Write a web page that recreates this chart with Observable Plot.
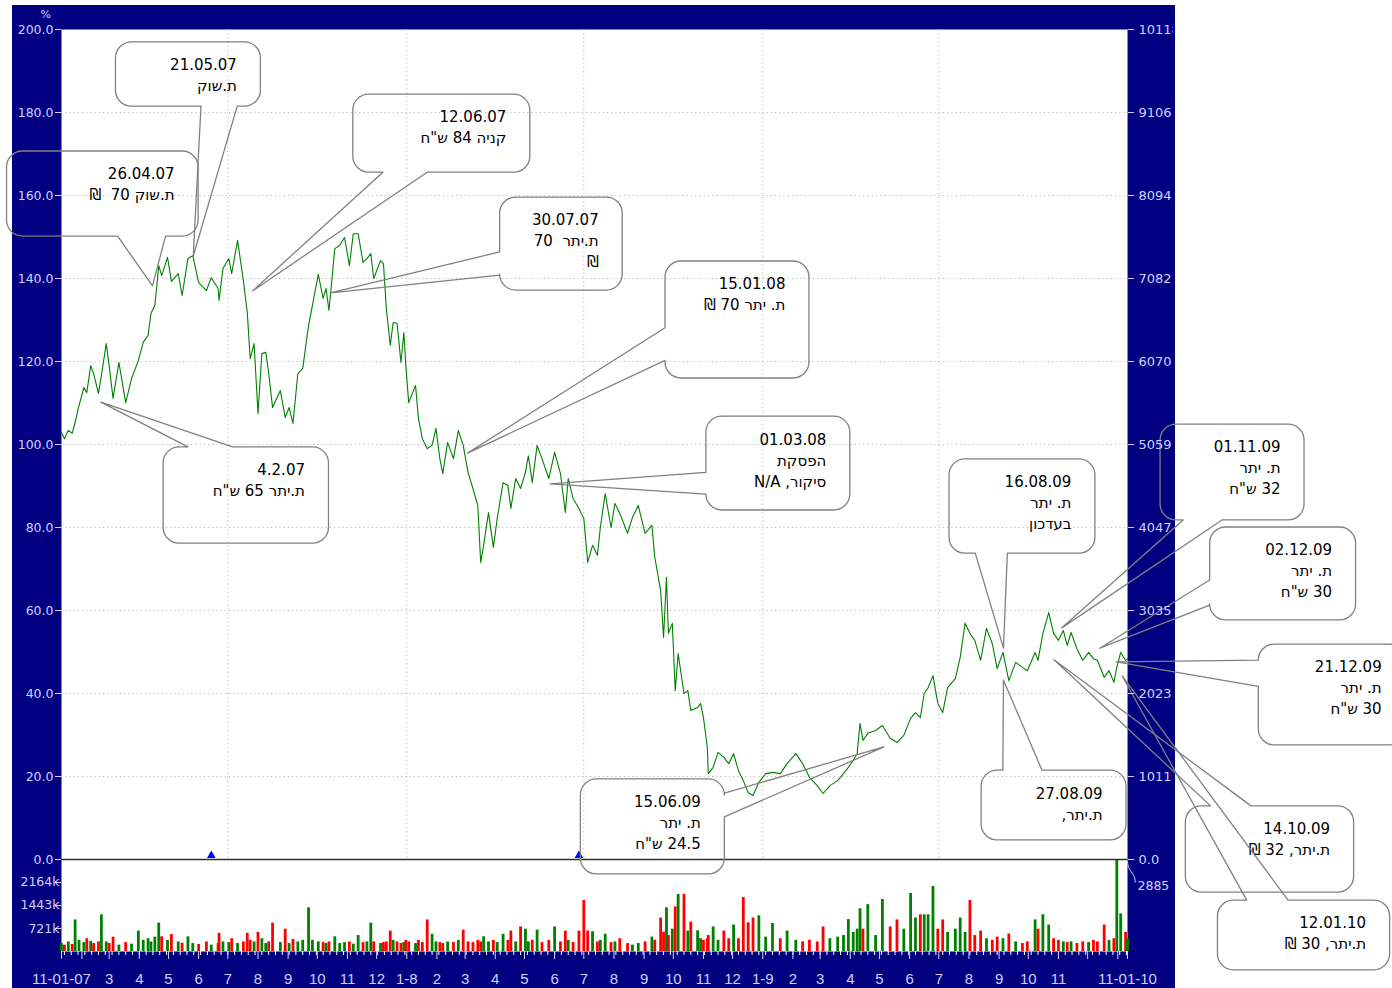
<!DOCTYPE html>
<html><head><meta charset="utf-8">
<script src="https://cdn.jsdelivr.net/npm/d3@7"></script>
<script src="https://cdn.jsdelivr.net/npm/@observablehq/plot@0.6"></script>
<style>
body{margin:0;background:#fff;}
#wrap{position:relative;width:1392px;height:988px;overflow:hidden;background:#fff;}
#navy{position:absolute;left:12px;top:5px;width:1163px;height:983px;background:#000080;}
#wrap svg{position:absolute;left:0;top:0;}
</style></head><body><div id="wrap"><div id="navy"></div></div>
<script>
// ---------- data ----------
const dates = ["2007-01-11","2007-01-14","2007-01-18","2007-01-22","2007-01-25","2007-01-29","2007-02-03","2007-02-06","2007-02-10","2007-02-13","2007-02-18","2007-02-21","2007-02-26","2007-03-01","2007-03-05","2007-03-11","2007-03-18","2007-03-24","2007-03-31","2007-04-05","2007-04-10","2007-04-13","2007-04-17","2007-04-21","2007-04-24","2007-04-30","2007-05-04","2007-05-11","2007-05-15","2007-05-21","2007-05-26","2007-06-01","2007-06-09","2007-06-14","2007-06-21","2007-06-22","2007-06-26","2007-07-02","2007-07-05","2007-07-11","2007-07-17","2007-07-21","2007-07-24","2007-07-28","2007-08-01","2007-08-05","2007-08-09","2007-08-12","2007-08-16","2007-08-24","2007-08-29","2007-09-02","2007-09-06","2007-09-11","2007-09-16","2007-09-22","2007-09-26","2007-10-02","2007-10-07","2007-10-10","2007-10-13","2007-10-19","2007-10-24","2007-10-29","2007-11-03","2007-11-07","2007-11-12","2007-11-17","2007-11-21","2007-11-25","2007-11-28","2007-12-05","2007-12-08","2007-12-11","2007-12-15","2007-12-18","2007-12-22","2007-12-26","2007-12-29","2007-12-31","2008-01-03","2008-01-10","2008-01-13","2008-01-17","2008-01-22","2008-01-27","2008-01-31","2008-02-04","2008-02-07","2008-02-12","2008-02-18","2008-02-23","2008-02-28","2008-03-04","2008-03-09","2008-03-14","2008-03-17","2008-03-20","2008-03-25","2008-03-30","2008-04-03","2008-04-09","2008-04-14","2008-04-17","2008-04-22","2008-04-27","2008-05-02","2008-05-05","2008-05-09","2008-05-14","2008-05-19","2008-05-26","2008-06-01","2008-06-07","2008-06-12","2008-06-15","2008-06-20","2008-06-26","2008-07-01","2008-07-05","2008-07-10","2008-07-15","2008-07-18","2008-07-23","2008-07-29","2008-08-02","2008-08-07","2008-08-15","2008-08-20","2008-08-26","2008-09-02","2008-09-09","2008-09-12","2008-09-18","2008-09-21","2008-09-24","2008-09-26","2008-09-30","2008-10-03","2008-10-06","2008-10-12","2008-10-16","2008-10-19","2008-10-26","2008-10-29","2008-11-01","2008-11-05","2008-11-06","2008-11-11","2008-11-16","2008-11-22","2008-11-27","2008-12-02","2008-12-07","2008-12-12","2008-12-17","2008-12-22","2008-12-28","2009-01-04","2009-01-11","2009-01-19","2009-01-26","2009-02-04","2009-02-11","2009-02-18","2009-02-26","2009-03-04","2009-03-11","2009-03-19","2009-03-25","2009-03-30","2009-04-04","2009-04-08","2009-04-11","2009-04-14","2009-04-19","2009-04-27","2009-05-04","2009-05-12","2009-05-19","2009-05-26","2009-06-02","2009-06-07","2009-06-12","2009-06-16","2009-06-20","2009-06-25","2009-06-30","2009-07-05","2009-07-10","2009-07-18","2009-07-23","2009-07-28","2009-08-02","2009-08-07","2009-08-13","2009-08-19","2009-08-25","2009-08-30","2009-09-05","2009-09-11","2009-09-18","2009-09-25","2009-09-30","2009-10-08","2009-10-11","2009-10-16","2009-10-22","2009-10-27","2009-11-01","2009-11-06","2009-11-10","2009-11-14","2009-11-20","2009-11-26","2009-12-02","2009-12-07","2009-12-11","2009-12-18","2009-12-23","2009-12-28","2009-12-31","2010-01-04","2010-01-09","2010-01-11"];
const pct = [102.9,101.4,103.4,102.7,105.3,109.4,113.7,112.5,119.0,117.1,112.3,116.6,124.3,119.0,111.1,119.8,110.1,115.9,120.2,124.6,126.3,131.6,133.5,143.1,140.7,145.1,139.3,141.2,135.9,144.8,145.5,139.0,137.1,140.2,137.6,134.7,142.4,144.8,141.2,149.2,139.5,131.8,120.7,124.3,107.5,121.9,122.2,117.3,108.9,113.0,106.5,108.9,105.1,117.1,118.3,128.7,133.5,141.0,135.2,137.6,132.3,147.2,148.0,149.9,143.1,150.8,150.8,143.9,144.8,146.0,140.0,144.3,143.6,132.8,123.9,129.4,129.2,119.8,127.0,119.0,110.1,114.2,106.3,101.4,99.0,99.8,103.9,96.6,93.0,100.5,96.6,103.4,99.8,93.3,89.4,85.3,71.6,75.7,83.6,75.2,82.2,90.8,90.1,84.6,91.8,89.4,93.3,97.3,90.8,99.8,96.6,91.8,98.1,93.0,83.6,91.8,87.0,84.6,82.2,71.6,75.7,73.3,80.0,88.2,80.0,85.8,83.4,78.6,82.4,85.3,78.6,80.5,72.8,64.8,53.5,68.0,54.5,56.9,40.7,49.6,40.0,40.7,35.9,36.6,37.6,34.2,27.0,20.7,22.2,25.8,24.6,23.1,25.5,21.4,19.0,16.1,15.4,18.6,20.7,21.0,20.7,23.1,25.5,23.1,19.8,17.8,15.9,17.8,19.0,20.7,22.2,23.9,25.5,32.8,28.7,30.4,31.1,32.3,29.2,28.2,29.9,34.0,35.4,34.2,40.0,41.4,44.3,37.6,35.4,41.4,43.6,48.7,56.9,54.5,52.8,48.0,55.7,52.0,46.0,49.9,43.1,47.5,46.3,45.5,49.9,48.0,54.5,59.5,54.5,52.8,55.2,51.6,54.7,50.8,48.0,49.9,48.4,48.0,43.9,45.5,42.7,46.3,49.9,48.0,48.4];
const volK = [250,200,300,220,990,350,280,400,320,250,300,1150,300,250,450,200,280,230,640,350,400,300,450,890,460,350,530,300,260,460,250,220,300,200,250,570,300,280,400,250,300,570,350,300,600,400,250,300,890,280,700,250,380,300,350,1370,350,300,280,250,300,460,250,280,300,230,500,280,300,890,300,250,280,300,640,350,300,250,280,350,300,250,350,280,990,540,300,280,250,300,280,350,670,300,280,350,300,460,300,350,280,540,350,640,300,770,700,300,350,670,280,350,770,300,640,350,280,640,1600,640,620,300,350,540,280,300,400,250,200,250,300,450,350,1050,600,1370,500,700,1400,1790,1790,640,920,650,400,350,400,500,770,350,640,400,830,400,1690,900,1050,1120,450,880,400,640,350,300,350,300,770,400,450,500,1000,600,700,1340,700,1470,500,1630,770,990,700,1820,1050,1150,1150,1150,2040,700,990,600,700,1050,600,1600,500,640,400,350,450,400,550,300,250,300,990,700,1150,830,400,350,300,280,300,250,300,280,350,300,830,350,400,2885,1180,600,400];
const markerDates = ["2007-06-14","2008-06-26"];
const yTicks = [0,20,40,60,80,100,120,140,160,180,200];
const volTicks = [721,1443,2164];
const volMax = 2885;
const basePrice = 5059;
const gridDates = ["2007-07-01","2008-01-01","2008-07-01","2009-01-01","2009-07-01"];
const monthTickDates = ["2007-02-01","2007-03-01","2007-04-01","2007-05-01","2007-06-01","2007-07-01","2007-08-01","2007-09-01","2007-10-01","2007-11-01","2007-12-01","2008-01-01","2008-02-01","2008-03-01","2008-04-01","2008-05-01","2008-06-01","2008-07-01","2008-08-01","2008-09-01","2008-10-01","2008-11-01","2008-12-01","2009-01-01","2009-02-01","2009-03-01","2009-04-01","2009-05-01","2009-06-01","2009-07-01","2009-08-01","2009-09-01","2009-10-01","2009-11-01","2009-12-01","2010-01-01"];
const monthTickLabels = ["","3","4","5","6","7","8","9","10","11","12","1-8","2","3","4","5","6","7","8","9","10","11","12","1-9","2","3","4","5","6","7","8","9","10","11","",""];
const edgeDates = ["2007-01-11","2010-01-11"];
const edgeLabels = ["11-01-07","11-01-10"];

// annotations: text lines, tip (date, %), box (date from, date to, % top, % bottom), pointer side + fractions
const calloutTexts = [
  ["21.05.07","ת.שוק"],
  ["26.04.07","ת.שוק 70  ₪"],
  ["12.06.07","קניה 84 ש\"ח"],
  ["30.07.07","ת.יתר  70","₪"],
  ["15.01.08","ת. יתר 70 ₪"],
  ["01.03.08","הפסקת","סיקור, N/A"],
  ["4.2.07","ת.יתר 65 ש\"ח"],
  ["15.06.09","ת. יתר","24.5 ש\"ח"],
  ["16.08.09","ת. יתר","בעדכון"],
  ["27.08.09","ת.יתר,"],
  ["01.11.09","ת. יתר","32 ש\"ח"],
  ["02.12.09","ת. יתר","30 ש\"ח"],
  ["21.12.09","ת. יתר","30 ש\"ח"],
  ["14.10.09","ת.יתר, 32 ₪"],
  ["12.01.10","ת.יתר, 30 ₪"]
];
const calloutTips = [
  ["2007-05-27",145.3],["2007-04-15",138.1],["2007-07-27",136.9],["2007-10-15",136.4],
  ["2008-03-04",97.8],["2008-05-28",90.4],["2007-02-21",110.1],["2009-05-06",27.0],
  ["2009-09-06",50.8],["2009-09-06",43.1],["2009-11-05",55.7],["2009-12-14",50.8],
  ["2009-12-31",47.5],["2009-10-28",48.0],["2010-01-06",44.1]
];
const calloutBoxes = [
  ["2007-03-08","2007-08-04",196.9,181.4],["2006-11-16","2007-06-01",170.6,150.1],
  ["2007-11-07","2008-05-07",184.3,165.5],["2008-04-06","2008-08-10",159.5,137.1],
  ["2008-09-23","2009-02-18",144.1,115.9],["2008-11-04","2009-04-01",106.7,84.1],
  ["2007-04-26","2007-10-13",99.3,76.1],["2008-06-28","2008-11-23",19.3,-3.6],
  ["2009-07-12","2009-12-09",96.4,73.7],["2009-08-14","2010-01-10",21.4,4.6],
  ["2010-02-14","2010-07-12",104.8,81.7],["2010-04-06","2010-09-03",80.0,57.6],
  ["2010-05-26","2010-10-24",51.8,27.5],["2010-03-12","2010-09-01",12.8,-8.0],
  ["2010-04-14","2010-10-08",-9.9,-26.7]
];
const calloutPointers = [
  ["bottom",0.59,0.84],["bottom",0.58,0.83],["bottom",0.17,0.42],["left",0.59,0.84],
  ["left",0.57,0.85],["left",0.6,0.83],["top",0.15,0.42],["right",0.15,0.40],
  ["bottom",0.18,0.40],["top",0.15,0.42],["bottom",0.16,0.43],["left",0.57,0.84],
  ["left",0.16,0.42],["top",0.15,0.39],["top",0.17,0.41]
];

// ---------- build ----------
const D = s => new Date(s);
const xStart = D("2007-01-11"), xEnd = D("2010-01-11");
const xScale = {type:"utc", domain:[xStart, xEnd]};
const rows = dates.map((d,i)=>({date:D(d), pct:pct[i], vol:volK[i], up: i===0 || pct[i] >= pct[i-1]}));
const axisColor = "#d0d0ff";
const rtl = s => /[\u0590-\u05FF]/.test(s) ? "\u202B" + s + "\u202C" : s;
const W = 1392, H = 988;
const wrap = document.getElementById("wrap");

const monthMap = new Map(monthTickDates.map((d,i)=>[+D(d), monthTickLabels[i]]));
const edgeMap = new Map(edgeDates.map((d,i)=>[+D(d), edgeLabels[i]]));

const volPlot = Plot.plot({
  width:W, height:H, marginLeft:61, marginRight:265, marginTop:859, marginBottom:37,
  x:{...xScale, axis:null, label:null}, y:{domain:[0,volMax], axis:null, label:null}, color:{type:"identity"},
  style:{background:"transparent", overflow:"visible"},
  marks:[
    Plot.frame({fill:"white", stroke:"none"}),
    Plot.ruleX(rows, {x:"date", y1:0, y2:"vol", stroke:d=>d.up ? "#008000" : "#ff0000", strokeWidth:2.8}),
    Plot.axisY(volTicks, {anchor:"left", label:null, tickSize:6, tickPadding:-4, tickFormat:d=>d+"k", color:axisColor, fontSize:12.5, fontFamily:"DejaVu Sans"}),
    Plot.axisX(d3.utcWeek.range(xStart, xEnd), {anchor:"bottom", label:null, tickSize:4, tickFormat:()=>"", color:"white"}),
    Plot.axisX(monthTickDates.map(D), {anchor:"bottom", label:null, tickSize:8, tickPadding:14, tickFormat:d=>monthMap.get(+d), color:axisColor, fontSize:15, fontFamily:"Liberation Sans"}),
    Plot.axisX(edgeDates.map(D), {anchor:"bottom", label:null, tickSize:8, tickPadding:14, tickFormat:d=>edgeMap.get(+d), color:axisColor, fontSize:15, fontFamily:"Liberation Sans"}),
    Plot.link([volMax], {x1:()=>xEnd, y1:d=>d*0.98, x2:()=>D("2010-01-19"), y2:()=>volTicks[2], curve:"bump-y", stroke:axisColor}),
    Plot.text([volMax], {x:()=>xEnd, y:()=>2040, text:d=>String(d), dx:10, textAnchor:"start", fill:axisColor, fontSize:12.5, fontFamily:"DejaVu Sans"})
  ]
});
wrap.appendChild(volPlot);

const textRows = [];
calloutTexts.forEach((lines,k)=>lines.forEach((t,i)=>textRows.push({x:D(calloutBoxes[k][1]), y:calloutBoxes[k][2], t:rtl(t), i})));
const textMark = i => Plot.text(textRows.filter(r=>r.i===i), {x:"x", y:"y", text:"t", dx:-24, dy:23+21*i, textAnchor:"end", fill:"#000", fontSize:15, fontFamily:"DejaVu Sans"});

const mainPlot = Plot.plot({
  width:W, height:H, marginLeft:61, marginRight:265, marginTop:29, marginBottom:129,
  x:{...xScale, axis:null, label:null}, y:{domain:[0,200], axis:null, label:null},
  style:{background:"transparent", overflow:"visible"},
  marks:[
    Plot.frame({fill:"white", stroke:"none"}),
    Plot.gridY(yTicks.slice(1,-1), {stroke:"#b8b8b8", strokeOpacity:1, strokeDasharray:"1.2,3"}),
    Plot.gridX(gridDates.map(D), {stroke:"#b8b8b8", strokeOpacity:1, strokeDasharray:"1.2,3"}),
    Plot.ruleX([xEnd], {stroke:"#8c8cb4"}),
    Plot.ruleY([0], {stroke:"#303030", strokeWidth:1.5}),
    Plot.line(rows, {x:"date", y:"pct", stroke:"#008000", strokeWidth:1.1}),
    Plot.dot(markerDates, {x:d=>D(d), y:()=>0, symbol:"triangle", fill:"#0000ff", stroke:"none", r:3.2, dy:-4}),
    Plot.axisY(yTicks, {anchor:"left", label:null, tickSize:6, tickPadding:2, tickFormat:d=>d.toFixed(1), color:axisColor, fontSize:12.5, fontFamily:"DejaVu Sans"}),
    Plot.text(["%"], {frameAnchor:"top-left", dx:-21, dy:-19, fill:axisColor, fontSize:11, fontFamily:"DejaVu Sans"}),
    textMark(0), textMark(1), textMark(2)
  ]
});
wrap.appendChild(mainPlot);

// callout outlines through the plot's own scales
const sx = mainPlot.scale("x"), sy = mainPlot.scale("y");
function bubble(X0,Y0,X1,Y1,side,a,b,TX,TY){
  const r = 16, w = X1-X0, h = Y1-Y0;
  let p = `M${X0+r},${Y0}`;
  if (side==="top") p += `L${X0+a*w},${Y0}L${TX},${TY}L${X0+b*w},${Y0}`;
  p += `L${X1-r},${Y0}A${r},${r} 0 0 1 ${X1},${Y0+r}`;
  if (side==="right") p += `L${X1},${Y0+a*h}L${TX},${TY}L${X1},${Y0+b*h}`;
  p += `L${X1},${Y1-r}A${r},${r} 0 0 1 ${X1-r},${Y1}`;
  if (side==="bottom") p += `L${X0+b*w},${Y1}L${TX},${TY}L${X0+a*w},${Y1}`;
  p += `L${X0+r},${Y1}A${r},${r} 0 0 1 ${X0},${Y1-r}`;
  if (side==="left") p += `L${X0},${Y0+b*h}L${TX},${TY}L${X0},${Y0+a*h}`;
  p += `L${X0},${Y0+r}A${r},${r} 0 0 1 ${X0+r},${Y0}Z`;
  return p;
}
const g = d3.select(mainPlot).append("g").attr("aria-label","callouts");
calloutBoxes.forEach((bx,k)=>{
  const [side,a,b] = calloutPointers[k];
  const tip = calloutTips[k];
  g.append("path")
    .attr("d", bubble(sx.apply(D(bx[0])), sy.apply(bx[2]), sx.apply(D(bx[1])), sy.apply(bx[3]), side, a, b, sx.apply(D(tip[0])), sy.apply(tip[1])))
    .attr("fill","none").attr("stroke","#808080").attr("stroke-width",1.3).attr("stroke-linejoin","round");
});

const rightPlot = Plot.plot({
  width:1173, height:H, marginLeft:61, marginRight:46, marginTop:29, marginBottom:129,
  x:{...xScale, axis:null, label:null}, y:{domain:[0,200], axis:null, label:null},
  style:{background:"transparent", overflow:"hidden"},
  marks:[
    Plot.axisY(yTicks, {anchor:"right", label:null, tickSize:6, tickPadding:5, textAnchor:"start",
      tickFormat:d=> d===0 ? "0.0" : String(Math.floor(d*basePrice/100)), color:axisColor, fontSize:13, fontFamily:"DejaVu Sans"})
  ]
});
wrap.appendChild(rightPlot);
</script></body></html>
